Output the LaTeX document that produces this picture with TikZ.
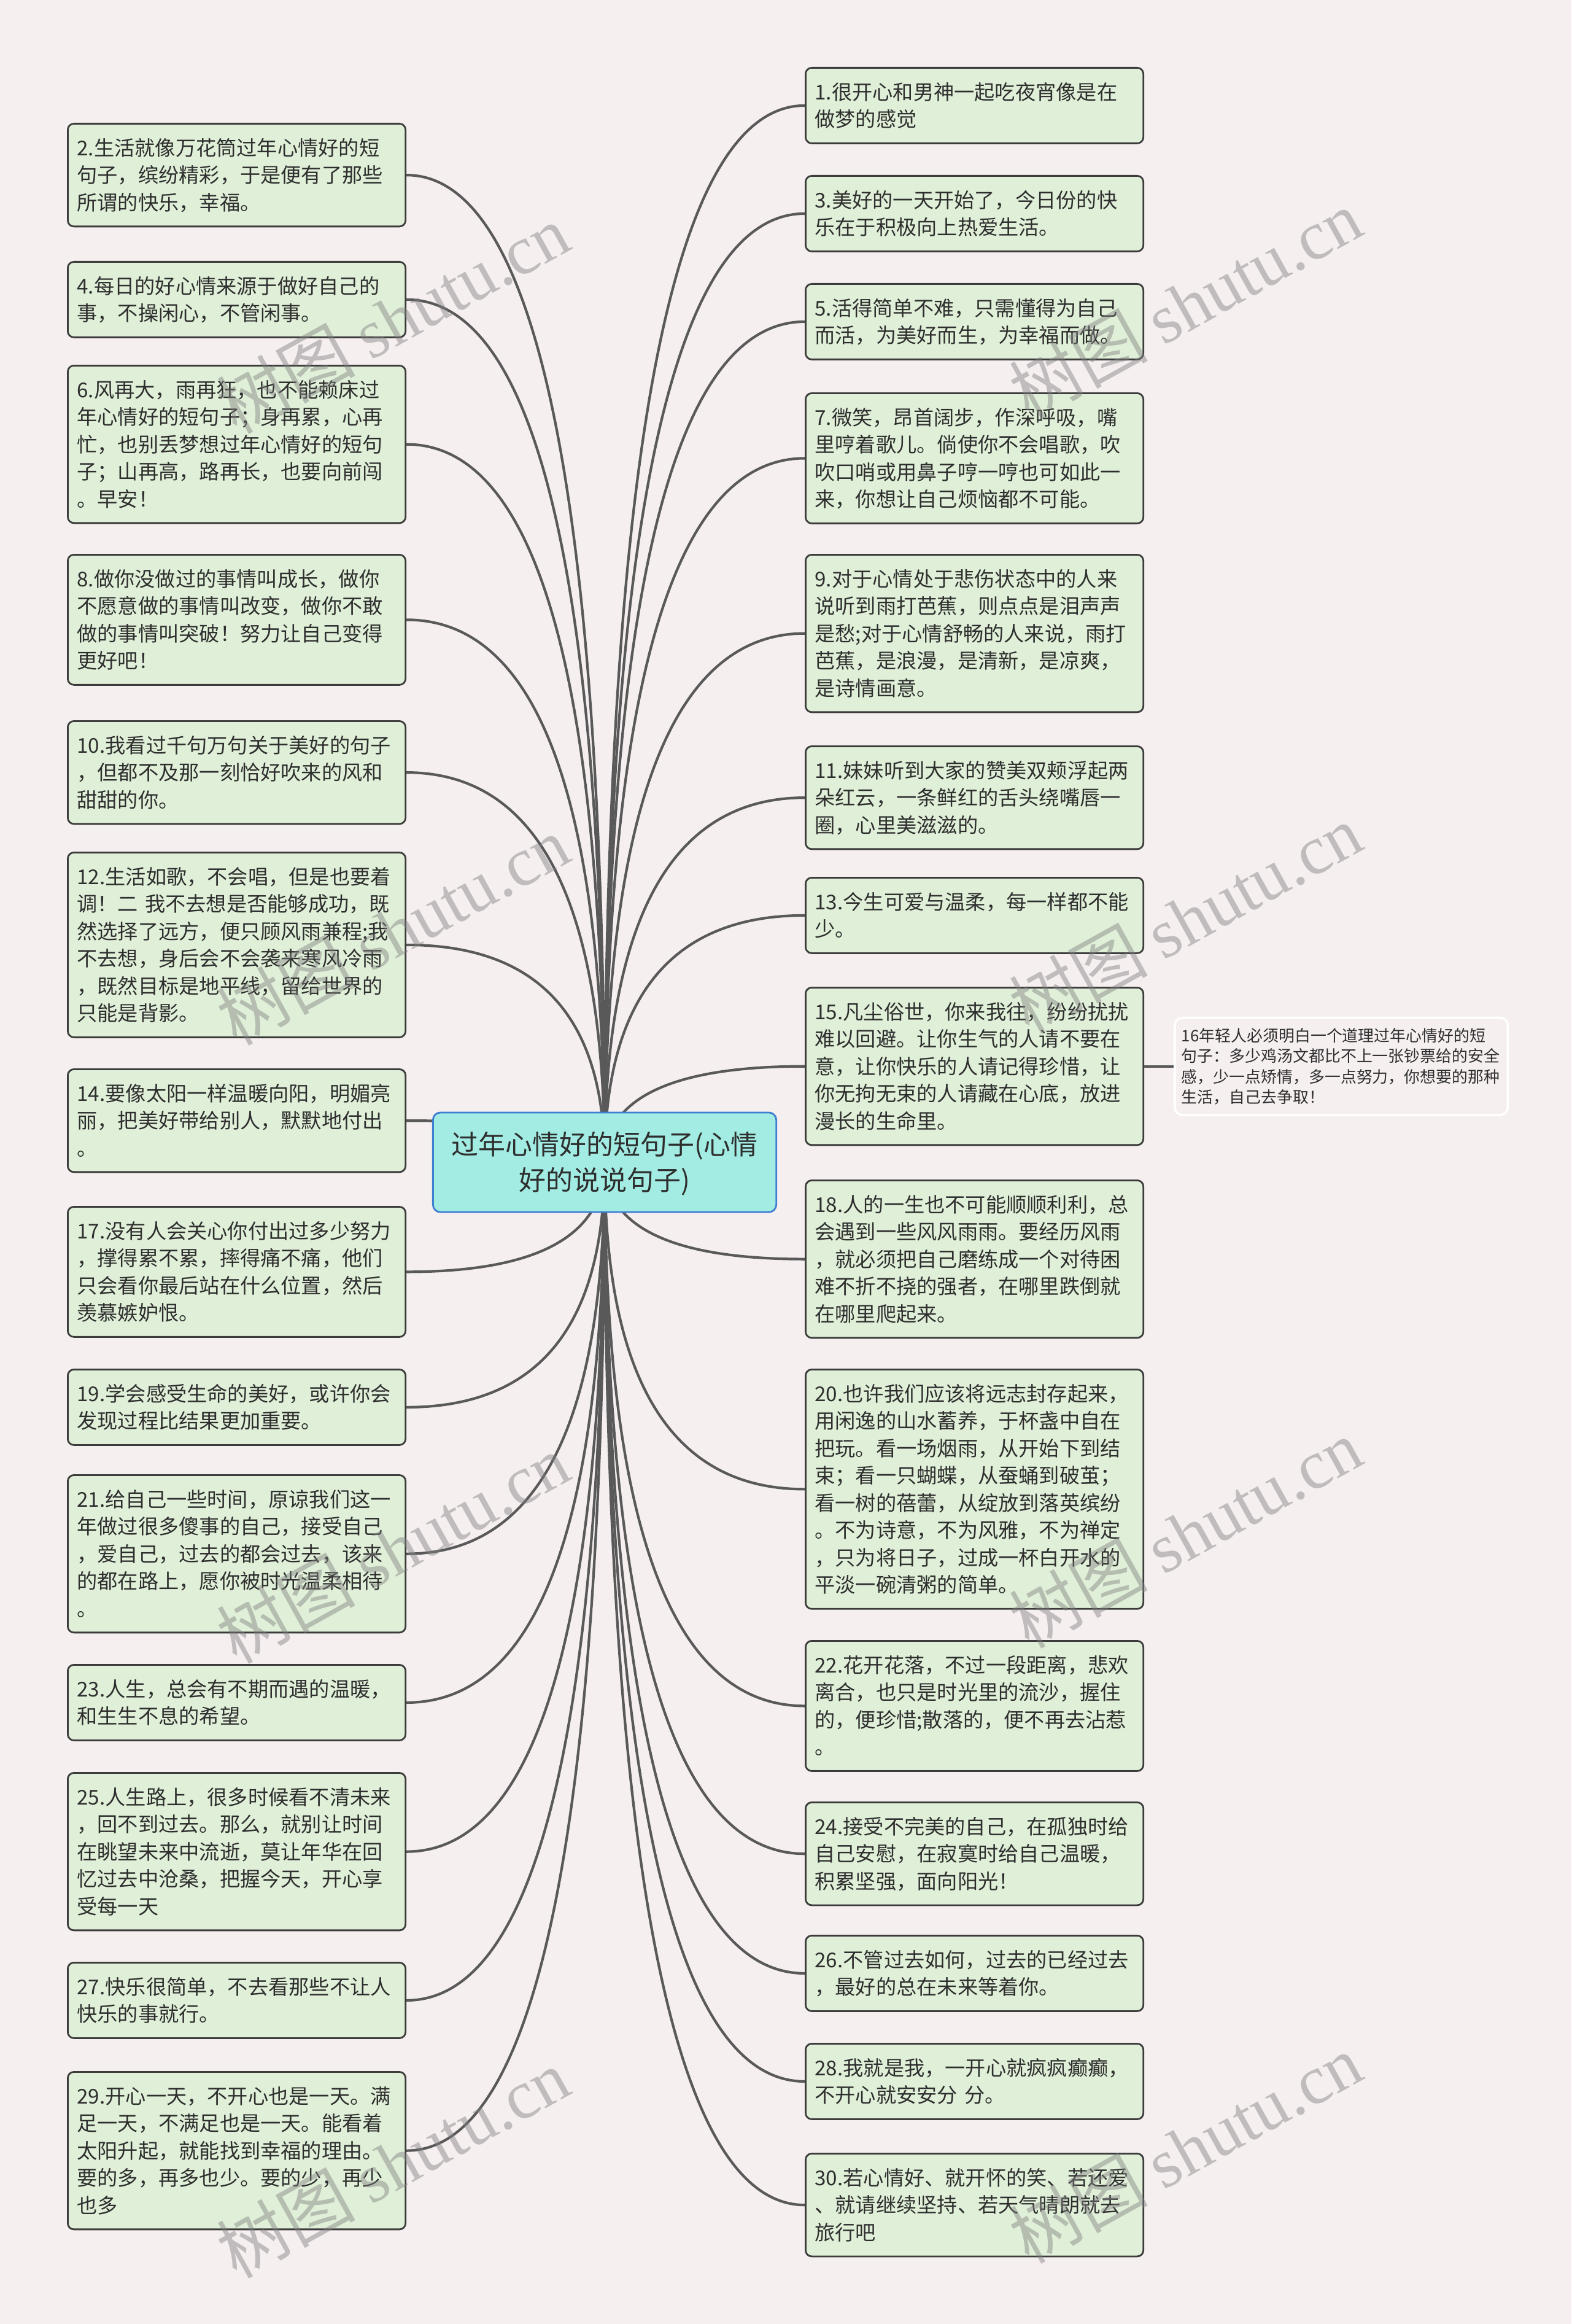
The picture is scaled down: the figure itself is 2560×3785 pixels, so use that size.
\documentclass[tikz,border=0pt]{standalone}
\usepackage{fontspec}
\setmainfont{Noto Sans CJK SC}
\newfontfamily\wmlatin{Liberation Serif}
\usetikzlibrary{calc,positioning}

\definecolor{bgpink}{HTML}{F6EFF0}
\definecolor{leaffill}{HTML}{E0F0D8}
\definecolor{leafline}{HTML}{3C3C3C}
\definecolor{rootfill}{HTML}{A3ECE3}
\definecolor{rootline}{HTML}{3F7FD0}
\definecolor{linkgray}{HTML}{595959}
\definecolor{txt}{HTML}{2E2E2E}

\newcommand\leafstrut{\rule[-2.75pt]{0pt}{12.65pt}}
\newcommand\rootstrut{\rule[-3.5pt]{0pt}{16.5pt}}
\newcommand\notestrut{\rule[-1.9pt]{0pt}{9.4pt}}

\tikzset{
  leaf/.style={draw=leafline, fill=leaffill, line width=0.8pt, rounded corners=0.1cm,
    text=txt, font=\fontsize{9.45pt}{12.65pt}\selectfont, align=left,
    text width=5.2cm, inner xsep=0.15cm, inner ysep=0.17cm, anchor=north west,
    execute at begin node=\leafstrut, execute at end node=\leafstrut},
  rootbox/.style={draw=rootline, fill=rootfill, line width=0.8pt, rounded corners=0.12cm,
    text=txt, font=\fontsize{12.5pt}{16.5pt}\selectfont, align=center,
    text width=5.1cm, inner xsep=0.245cm, inner ysep=0.23cm,
    execute at begin node=\rootstrut, execute at end node=\rootstrut},
  notebox/.style={draw=white, fill=bgpink, line width=1pt, rounded corners=0.12cm,
    text=txt, font=\fontsize{7.37pt}{9.4pt}\selectfont, align=left,
    text width=5.2cm, inner xsep=0.11cm, inner ysep=0.13cm,
    execute at begin node=\notestrut, execute at end node=\notestrut},
  link/.style={draw=linkgray, line width=1.2pt},
  branch/.style={to path={.. controls ($(\tikztostart)!0.667!(\tikztostart |- \tikztotarget)$)
    and ($(\tikztotarget)!0.667!(\tikztostart |- \tikztotarget)$) .. (\tikztotarget)}},
  wmark/.style={rotate=29, text=gray, text opacity=0.45,
    font=\fontsize{32pt}{32pt}\selectfont}
}

\begin{document}
\begin{tikzpicture}[x=0.01cm, y=-0.01cm]
  \path[use as bounding box, fill=bgpink] (0,0) rectangle (2560,3785);

  % 左侧
  \node[leaf] (b2) at (109,200) {2.生活就像万花筒过年心情好的短\\句子，缤纷精彩，于是便有了那些\\所谓的快乐，幸福。};
  \node[leaf] (b4) at (109,425) {4.每日的好心情来源于做好自己的\\事，不操闲心，不管闲事。};
  \node[leaf] (b6) at (109,594) {6.风再大，雨再狂，也不能赖床过\\年心情好的短句子；身再累，心再\\忙，也别丢梦想过年心情好的短句\\子；山再高，路再长，也要向前闯\\。早安！};
  \node[leaf] (b8) at (109,902) {8.做你没做过的事情叫成长，做你\\不愿意做的事情叫改变，做你不敢\\做的事情叫突破！努力让自己变得\\更好吧！};
  \node[leaf] (b10) at (109,1173) {10.我看过千句万句关于美好的句子\\，但都不及那一刻恰好吹来的风和\\甜甜的你。};
  \node[leaf] (b12) at (109,1387) {12.生活如歌，不会唱，但是也要着\\调！二 我不去想是否能够成功，既\\然选择了远方，便只顾风雨兼程;我\\不去想，身后会不会袭来寒风冷雨\\，既然目标是地平线，留给世界的\\只能是背影。};
  \node[leaf] (b14) at (109,1740) {14.要像太阳一样温暖向阳，明媚亮\\丽，把美好带给别人，默默地付出\\。};
  \node[leaf] (b17) at (109,1964) {17.没有人会关心你付出过多少努力\\，撑得累不累，摔得痛不痛，他们\\只会看你最后站在什么位置，然后\\羡慕嫉妒恨。};
  \node[leaf] (b19) at (109,2229) {19.学会感受生命的美好，或许你会\\发现过程比结果更加重要。};
  \node[leaf] (b21) at (109,2401) {21.给自己一些时间，原谅我们这一\\年做过很多傻事的自己，接受自己\\，爱自己，过去的都会过去，该来\\的都在路上，愿你被时光温柔相待\\。};
  \node[leaf] (b23) at (109,2710) {23.人生，总会有不期而遇的温暖，\\和生生不息的希望。};
  \node[leaf] (b25) at (109,2886) {25.人生路上，很多时候看不清未来\\，回不到过去。那么，就别让时间\\在眺望未来中流逝，莫让年华在回\\忆过去中沧桑，把握今天，开心享\\受每一天};
  \node[leaf] (b27) at (109,3195) {27.快乐很简单，不去看那些不让人\\快乐的事就行。};
  \node[leaf] (b29) at (109,3373) {29.开心一天，不开心也是一天。满\\足一天，不满足也是一天。能看着\\太阳升起，就能找到幸福的理由。\\要的多，再多也少。要的少，再少\\也多};

  % 右侧
  \node[leaf] (b1) at (1311,109) {1.很开心和男神一起吃夜宵像是在\\做梦的感觉};
  \node[leaf] (b3) at (1311,285) {3.美好的一天开始了，今日份的快\\乐在于积极向上热爱生活。};
  \node[leaf] (b5) at (1311,461) {5.活得简单不难，只需懂得为自己\\而活，为美好而生，为幸福而做。};
  \node[leaf] (b7) at (1311,639) {7.微笑，昂首阔步，作深呼吸，嘴\\里哼着歌儿。倘使你不会唱歌，吹\\吹口哨或用鼻子哼一哼也可如此一\\来，你想让自己烦恼都不可能。};
  \node[leaf] (b9) at (1311,902) {9.对于心情处于悲伤状态中的人来\\说听到雨打芭蕉，则点点是泪声声\\是愁;对于心情舒畅的人来说，雨打\\芭蕉，是浪漫，是清新，是凉爽，\\是诗情画意。};
  \node[leaf] (b11) at (1311,1214) {11.妹妹听到大家的赞美双颊浮起两\\朵红云，一条鲜红的舌头绕嘴唇一\\圈，心里美滋滋的。};
  \node[leaf] (b13) at (1311,1428) {13.今生可爱与温柔，每一样都不能\\少。};
  \node[leaf] (b15) at (1311,1607) {15.凡尘俗世，你来我往，纷纷扰扰\\难以回避。让你生气的人请不要在\\意，让你快乐的人请记得珍惜，让\\你无拘无束的人请藏在心底，放进\\漫长的生命里。};
  \node[leaf] (b18) at (1311,1921) {18.人的一生也不可能顺顺利利，总\\会遇到一些风风雨雨。要经历风雨\\，就必须把自己磨练成一个对待困\\难不折不挠的强者，在哪里跌倒就\\在哪里爬起来。};
  \node[leaf] (b20) at (1311,2229) {20.也许我们应该将远志封存起来，\\用闲逸的山水蓄养，于杯盏中自在\\把玩。看一场烟雨，从开始下到结\\束；看一只蝴蝶，从蚕蛹到破茧；\\看一树的蓓蕾，从绽放到落英缤纷\\。不为诗意，不为风雅，不为禅定\\，只为将日子，过成一杯白开水的\\平淡一碗清粥的简单。};
  \node[leaf] (b22) at (1311,2671) {22.花开花落，不过一段距离，悲欢\\离合，也只是时光里的流沙，握住\\的，便珍惜;散落的，便不再去沾惹\\。};
  \node[leaf] (b24) at (1311,2934) {24.接受不完美的自己，在孤独时给\\自己安慰，在寂寞时给自己温暖，\\积累坚强，面向阳光！};
  \node[leaf] (b26) at (1311,3151) {26.不管过去如何，过去的已经过去\\，最好的总在未来等着你。};
  \node[leaf] (b28) at (1311,3327) {28.我就是我，一开心就疯疯癫癫，\\不开心就安安分 分。};
  \node[leaf] (b30) at (1311,3506) {30.若心情好、就开怀的笑、若还爱\\、就请继续坚持、若天气晴朗就去\\旅行吧};

  % 备注
  \node[notebox, right=0.48cm of b15] (note) {16年轻人必须明白一个道理过年心情好的短\\句子：多少鸡汤文都比不上一张钞票给的安全\\感，少一点矫情，多一点努力，你想要的那种\\生活，自己去争取！};
  \draw[link] (b15.east) -- (note.west);

  % 连线
  \coordinate (rootc) at (985,1893);
  \draw[link] (rootc) to[branch] (b2.east);
  \draw[link] (rootc) to[branch] (b4.east);
  \draw[link] (rootc) to[branch] (b6.east);
  \draw[link] (rootc) to[branch] (b8.east);
  \draw[link] (rootc) to[branch] (b10.east);
  \draw[link] (rootc) to[branch] (b12.east);
  \draw[link] (rootc) to[branch] (b14.east);
  \draw[link] (rootc) to[branch] (b17.east);
  \draw[link] (rootc) to[branch] (b19.east);
  \draw[link] (rootc) to[branch] (b21.east);
  \draw[link] (rootc) to[branch] (b23.east);
  \draw[link] (rootc) to[branch] (b25.east);
  \draw[link] (rootc) to[branch] (b27.east);
  \draw[link] (rootc) to[branch] (b29.east);
  \draw[link] (rootc) to[branch] (b1.west);
  \draw[link] (rootc) to[branch] (b3.west);
  \draw[link] (rootc) to[branch] (b5.west);
  \draw[link] (rootc) to[branch] (b7.west);
  \draw[link] (rootc) to[branch] (b9.west);
  \draw[link] (rootc) to[branch] (b11.west);
  \draw[link] (rootc) to[branch] (b13.west);
  \draw[link] (rootc) to[branch] (b15.west);
  \draw[link] (rootc) to[branch] (b18.west);
  \draw[link] (rootc) to[branch] (b20.west);
  \draw[link] (rootc) to[branch] (b22.west);
  \draw[link] (rootc) to[branch] (b24.west);
  \draw[link] (rootc) to[branch] (b26.west);
  \draw[link] (rootc) to[branch] (b28.west);
  \draw[link] (rootc) to[branch] (b30.west);

  % 中心
  \node[rootbox] (root) at (rootc) {过年心情好的短句子(心情\\好的说说句子)};

  % 水印
  \node[wmark] (wm1) at (640,519) {树图 {\wmlatin shutu.cn}};
  \node[wmark] (wm2) at (640,1515) {树图 {\wmlatin shutu.cn}};
  \node[wmark] (wm3) at (640,2522) {树图 {\wmlatin shutu.cn}};
  \node[wmark] (wm4) at (640,3523) {树图 {\wmlatin shutu.cn}};
  \node[wmark] (wm5) at (1931,495) {树图 {\wmlatin shutu.cn}};
  \node[wmark] (wm6) at (1931,1496) {树图 {\wmlatin shutu.cn}};
  \node[wmark] (wm7) at (1931,2497) {树图 {\wmlatin shutu.cn}};
  \node[wmark] (wm8) at (1931,3499) {树图 {\wmlatin shutu.cn}};
\end{tikzpicture}
\end{document}
